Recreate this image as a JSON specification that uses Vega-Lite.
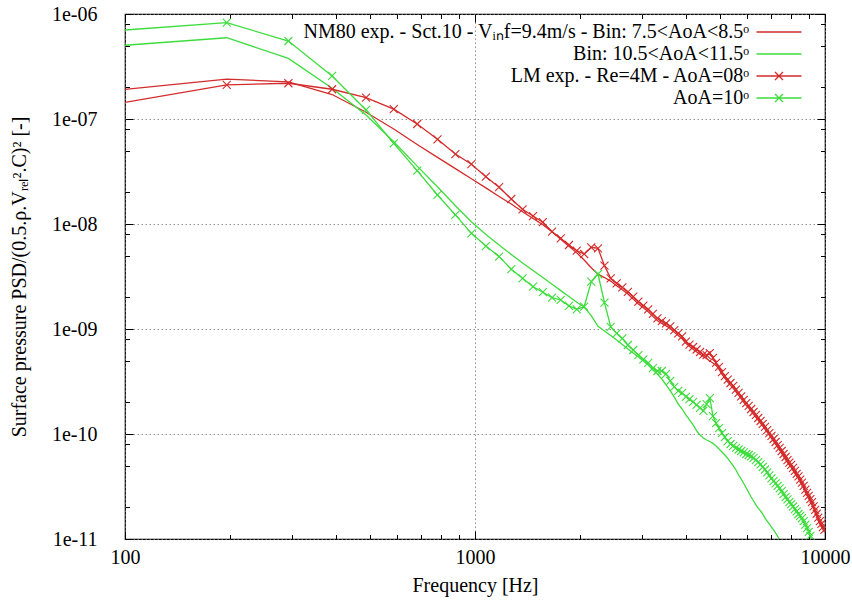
{
  "$schema": "https://vega.github.io/schema/vega-lite/v6.json",
  "width": 700,
  "height": 525,
  "autosize": "none",
  "padding": {"left": 125, "top": 14, "right": 27, "bottom": 61},
  "background": "white",
  "config": {
    "view": {"stroke": "black", "strokeWidth": 1.2},
    "font": "Liberation Serif",
    "axis": {
      "domain": false,
      "tickColor": "black",
      "tickWidth": 1,
      "labelFont": "Liberation Serif",
      "labelFontSize": 20,
      "labelColor": "black",
      "titleFont": "Liberation Serif",
      "titleFontSize": 20,
      "titleFontWeight": "normal",
      "titleColor": "black",
      "gridColor": "#777777",
      "gridDash": [1.5, 2.5],
      "gridWidth": 0.8,
      "labelFlush": false,
      "labelOverlap": false
    },
    "legend": {
      "labelFont": "Liberation Serif",
      "labelFontSize": 20,
      "labelColor": "black"
    }
  },
  "data": {
    "values": [
      {"f": 97.66, "nm8": 1.90e-7, "nm11": 5.01e-7, "lm8": 1.42e-7, "lm10": 7.0e-7},
      {"f": 195.31, "nm8": 2.40e-7, "nm11": 5.94e-7, "lm8": 2.11e-7, "lm10": 8.26e-7},
      {"f": 292.97, "nm8": 2.26e-7, "nm11": 3.78e-7, "lm8": 2.19e-7, "lm10": 5.53e-7},
      {"f": 390.63, "nm8": 1.71e-7, "nm11": 1.96e-7, "lm8": 1.92e-7, "lm10": 2.57e-7},
      {"f": 488.28, "nm8": 1.16e-7, "nm11": 1.09e-7, "lm8": 1.60e-7, "lm10": 1.22e-7},
      {"f": 585.94, "nm8": 8.02e-8, "nm11": 6.08e-8, "lm8": 1.24e-7, "lm10": 5.87e-8},
      {"f": 683.59, "nm8": 5.71e-8, "nm11": 3.56e-8, "lm8": 8.96e-8, "lm10": 3.22e-8},
      {"f": 781.25, "nm8": 4.31e-8, "nm11": 2.26e-8, "lm8": 6.41e-8, "lm10": 1.89e-8},
      {"f": 878.91, "nm8": 3.37e-8, "nm11": 1.49e-8, "lm8": 4.64e-8, "lm10": 1.22e-8},
      {"f": 976.56, "nm8": 2.70e-8, "nm11": 1.05e-8, "lm8": 3.71e-8, "lm10": 8.15e-9},
      {"f": 1074.22, "nm8": 2.21e-8, "nm11": 7.94e-9, "lm8": 2.82e-8, "lm10": 6.17e-9},
      {"f": 1171.88, "nm8": 1.83e-8, "nm11": 6.31e-9, "lm8": 2.24e-8, "lm10": 4.89e-9},
      {"f": 1269.53, "nm8": 1.55e-8, "nm11": 5.13e-9, "lm8": 1.73e-8, "lm10": 3.71e-9},
      {"f": 1367.19, "nm8": 1.31e-8, "nm11": 4.26e-9, "lm8": 1.38e-8, "lm10": 3.04e-9},
      {"f": 1464.84, "nm8": 1.13e-8, "nm11": 3.61e-9, "lm8": 1.19e-8, "lm10": 2.53e-9},
      {"f": 1562.5, "nm8": 9.86e-9, "nm11": 3.09e-9, "lm8": 1.04e-8, "lm10": 2.24e-9},
      {"f": 1660.16, "nm8": 8.43e-9, "nm11": 2.67e-9, "lm8": 8.45e-9, "lm10": 1.99e-9},
      {"f": 1757.81, "nm8": 7.17e-9, "nm11": 2.32e-9, "lm8": 7.31e-9, "lm10": 1.89e-9},
      {"f": 1855.47, "nm8": 6.13e-9, "nm11": 2.04e-9, "lm8": 6.31e-9, "lm10": 1.66e-9},
      {"f": 1953.13, "nm8": 5.31e-9, "nm11": 1.80e-9, "lm8": 5.57e-9, "lm10": 1.54e-9},
      {"f": 2050.78, "nm8": 4.54e-9, "nm11": 1.62e-9, "lm8": 5.18e-9, "lm10": 1.63e-9},
      {"f": 2148.44, "nm8": 3.83e-9, "nm11": 1.34e-9, "lm8": 6.0e-9, "lm10": 2.82e-9},
      {"f": 2246.09, "nm8": 3.33e-9, "nm11": 1.06e-9, "lm8": 5.86e-9, "lm10": 3.34e-9},
      {"f": 2343.75, "nm8": 3.09e-9, "nm11": 9.57e-10, "lm8": 4.01e-9, "lm10": 1.78e-9},
      {"f": 2441.41, "nm8": 2.86e-9, "nm11": 8.67e-10, "lm8": 3.04e-9, "lm10": 1.05e-9},
      {"f": 2539.06, "nm8": 2.58e-9, "nm11": 7.85e-10, "lm8": 2.72e-9, "lm10": 9.1e-10},
      {"f": 2636.72, "nm8": 2.37e-9, "nm11": 7.11e-10, "lm8": 2.49e-9, "lm10": 8.13e-10},
      {"f": 2734.38, "nm8": 2.15e-9, "nm11": 6.45e-10, "lm8": 2.26e-9, "lm10": 7.04e-10},
      {"f": 2832.03, "nm8": 1.93e-9, "nm11": 5.90e-10, "lm8": 2.03e-9, "lm10": 6.31e-10},
      {"f": 2929.69, "nm8": 1.73e-9, "nm11": 5.41e-10, "lm8": 1.82e-9, "lm10": 5.65e-10},
      {"f": 3027.34, "nm8": 1.59e-9, "nm11": 4.95e-10, "lm8": 1.67e-9, "lm10": 5.13e-10},
      {"f": 3125.0, "nm8": 1.46e-9, "nm11": 4.54e-10, "lm8": 1.54e-9, "lm10": 4.75e-10},
      {"f": 3222.66, "nm8": 1.32e-9, "nm11": 4.07e-10, "lm8": 1.39e-9, "lm10": 4.25e-10},
      {"f": 3320.31, "nm8": 1.20e-9, "nm11": 3.73e-10, "lm8": 1.26e-9, "lm10": 3.98e-10},
      {"f": 3417.97, "nm8": 1.13e-9, "nm11": 3.34e-10, "lm8": 1.19e-9, "lm10": 3.98e-10},
      {"f": 3515.63, "nm8": 1.07e-9, "nm11": 2.93e-10, "lm8": 1.13e-9, "lm10": 3.73e-10},
      {"f": 3613.28, "nm8": 1.01e-9, "nm11": 2.57e-10, "lm8": 1.06e-9, "lm10": 3.20e-10},
      {"f": 3710.94, "nm8": 9.3e-10, "nm11": 2.25e-10, "lm8": 9.78e-10, "lm10": 2.81e-10},
      {"f": 3808.59, "nm8": 8.65e-10, "nm11": 1.93e-10, "lm8": 9.1e-10, "lm10": 2.57e-10},
      {"f": 3906.25, "nm8": 8.07e-10, "nm11": 1.73e-10, "lm8": 8.49e-10, "lm10": 2.46e-10},
      {"f": 4003.91, "nm8": 7.3e-10, "nm11": 1.52e-10, "lm8": 7.57e-10, "lm10": 2.26e-10},
      {"f": 4101.56, "nm8": 6.8e-10, "nm11": 1.36e-10, "lm8": 7.11e-10, "lm10": 2.15e-10},
      {"f": 4199.22, "nm8": 6.4e-10, "nm11": 1.22e-10, "lm8": 6.74e-10, "lm10": 2.02e-10},
      {"f": 4296.88, "nm8": 6.05e-10, "nm11": 1.07e-10, "lm8": 6.38e-10, "lm10": 1.89e-10},
      {"f": 4394.53, "nm8": 5.75e-10, "nm11": 9.78e-11, "lm8": 6.04e-10, "lm10": 1.77e-10},
      {"f": 4492.19, "nm8": 5.45e-10, "nm11": 9.16e-11, "lm8": 5.71e-10, "lm10": 1.66e-10},
      {"f": 4589.84, "nm8": 5.2e-10, "nm11": 8.77e-11, "lm8": 5.65e-10, "lm10": 1.93e-10},
      {"f": 4687.5, "nm8": 4.95e-10, "nm11": 8.49e-11, "lm8": 5.90e-10, "lm10": 2.20e-10},
      {"f": 4785.16, "nm8": 4.75e-10, "nm11": 8.15e-11, "lm8": 5.30e-10, "lm10": 1.48e-10},
      {"f": 4882.81, "nm8": 4.5e-10, "nm11": 7.69e-11, "lm8": 4.75e-10, "lm10": 1.27e-10},
      {"f": 4980.47, "nm8": 4.15e-10, "nm11": 7.20e-11, "lm8": 4.35e-10, "lm10": 1.14e-10},
      {"f": 5078.13, "nm8": 3.7e-10, "nm11": 6.74e-11, "lm8": 3.89e-10, "lm10": 1.02e-10},
      {"f": 5175.78, "nm11": 6.31e-11, "lm8": 3.56e-10, "lm10": 9.36e-11},
      {"f": 5273.44, "nm8": 3.13e-10, "nm11": 5.85e-11, "lm8": 3.30e-10, "lm10": 8.57e-11},
      {"f": 5371.09, "nm11": 5.41e-11, "lm8": 3.06e-10, "lm10": 8.03e-11},
      {"f": 5468.75, "nm8": 2.72e-10, "nm11": 4.96e-11, "lm8": 2.87e-10, "lm10": 7.69e-11},
      {"f": 5566.41, "nm11": 4.54e-11, "lm8": 2.65e-10, "lm10": 7.36e-11},
      {"f": 5664.06, "nm8": 2.34e-10, "nm11": 4.07e-11, "lm8": 2.46e-10, "lm10": 7.12e-11},
      {"f": 5761.72, "nm11": 3.73e-11, "lm8": 2.28e-10, "lm10": 6.89e-11},
      {"f": 5859.38, "nm8": 2.0e-10, "nm11": 3.38e-11, "lm8": 2.11e-10, "lm10": 6.67e-11},
      {"f": 5957.03, "nm11": 3.06e-11, "lm8": 1.97e-10, "lm10": 6.45e-11},
      {"f": 6054.69, "nm8": 1.76e-10, "nm11": 2.77e-11, "lm8": 1.85e-10, "lm10": 6.31e-11},
      {"f": 6152.34, "nm11": 2.51e-11, "lm8": 1.73e-10, "lm10": 6.11e-11},
      {"f": 6250.0, "nm8": 1.54e-10, "nm11": 2.30e-11, "lm8": 1.62e-10, "lm10": 5.91e-11},
      {"f": 6347.66, "nm11": 2.11e-11, "lm8": 1.52e-10, "lm10": 5.65e-11},
      {"f": 6445.31, "nm8": 1.35e-10, "nm11": 1.97e-11, "lm8": 1.42e-10, "lm10": 5.41e-11},
      {"f": 6542.97, "nm11": 1.85e-11, "lm8": 1.33e-10, "lm10": 5.13e-11},
      {"f": 6640.63, "nm8": 1.19e-10, "nm11": 1.73e-11, "lm8": 1.25e-10, "lm10": 4.85e-11},
      {"f": 6738.28, "nm11": 1.58e-11, "lm8": 1.17e-10, "lm10": 4.59e-11},
      {"f": 6835.94, "nm8": 1.04e-10, "nm11": 1.48e-11, "lm8": 1.09e-10, "lm10": 4.30e-11},
      {"f": 6933.59, "nm11": 1.39e-11, "lm8": 1.02e-10, "lm10": 4.03e-11},
      {"f": 7031.25, "nm8": 9.1e-11, "nm11": 1.30e-11, "lm8": 9.58e-11, "lm10": 3.77e-11},
      {"f": 7128.91, "nm11": 1.22e-11, "lm8": 8.96e-11, "lm10": 3.56e-11},
      {"f": 7226.56, "nm8": 8.0e-11, "nm11": 1.14e-11, "lm8": 8.39e-11, "lm10": 3.38e-11},
      {"f": 7324.22, "nm11": 1.06e-11, "lm8": 7.85e-11, "lm10": 3.20e-11},
      {"f": 7421.88, "nm8": 7.0e-11, "nm11": 9.78e-12, "lm8": 7.36e-11, "lm10": 3.03e-11},
      {"f": 7519.53, "nm11": 9.1e-12, "lm8": 6.89e-11, "lm10": 2.86e-11},
      {"f": 7617.19, "nm8": 6.1e-11, "lm8": 6.45e-11, "lm10": 2.68e-11},
      {"f": 7714.84, "lm8": 6.04e-11, "lm10": 2.51e-11},
      {"f": 7812.5, "nm8": 5.35e-11, "lm8": 5.65e-11, "lm10": 2.38e-11},
      {"f": 7910.16, "lm8": 5.35e-11, "lm10": 2.25e-11},
      {"f": 8007.81, "nm8": 4.8e-11, "lm8": 5.07e-11, "lm10": 2.15e-11},
      {"f": 8105.47, "lm8": 4.75e-11, "lm10": 2.04e-11},
      {"f": 8203.13, "nm8": 4.2e-11, "lm8": 4.45e-11, "lm10": 1.93e-11},
      {"f": 8300.78, "lm8": 4.18e-11, "lm10": 1.83e-11},
      {"f": 8398.44, "nm8": 3.75e-11, "lm8": 3.94e-11, "lm10": 1.73e-11},
      {"f": 8496.09, "lm8": 3.68e-11, "lm10": 1.66e-11},
      {"f": 8593.75, "nm8": 3.28e-11, "lm8": 3.45e-11, "lm10": 1.58e-11},
      {"f": 8691.41, "lm8": 3.2e-11, "lm10": 1.48e-11},
      {"f": 8789.06, "nm8": 2.8e-11, "lm8": 2.96e-11, "lm10": 1.37e-11},
      {"f": 8886.72, "lm8": 2.75e-11, "lm10": 1.27e-11},
      {"f": 8984.38, "nm8": 2.44e-11, "lm8": 2.57e-11, "lm10": 1.17e-11},
      {"f": 9082.03, "lm8": 2.40e-11, "lm10": 1.07e-11},
      {"f": 9179.69, "nm8": 2.13e-11, "lm8": 2.25e-11, "lm10": 9.8e-12},
      {"f": 9277.34, "lm8": 2.05e-11, "lm10": 9.2e-12},
      {"f": 9375.0, "nm8": 1.8e-11, "lm8": 1.89e-11},
      {"f": 9472.66, "lm8": 1.74e-11},
      {"f": 9570.31, "nm8": 1.52e-11, "lm8": 1.60e-11},
      {"f": 9667.97, "lm8": 1.48e-11},
      {"f": 9765.63, "nm8": 1.32e-11, "lm8": 1.39e-11},
      {"f": 9863.28, "lm8": 1.30e-11},
      {"f": 9960.94, "nm8": 1.16e-11, "lm8": 1.22e-11},
      {"f": 10058.59, "lm8": 1.14e-11}
    ]
  },
  "transform": [
    {"fold": ["nm8", "nm11", "lm8", "lm10"], "as": ["series", "psd"]},
    {"filter": "isValid(datum.psd)"}
  ],
  "layer": [
    {
      "mark": {"type": "line", "strokeWidth": 1.3, "clip": true},
      "encoding": {
        "x": {
          "field": "f", "type": "quantitative",
          "scale": {"type": "log", "domain": [100, 10000], "nice": false},
          "axis": {
            "orient": "bottom", "values": [100, 1000, 10000], "format": "d",
            "tickSize": -8, "labelPadding": 16, "grid": true,
            "title": "Frequency [Hz]", "titlePadding": 8
          }
        },
        "y": {
          "field": "psd", "type": "quantitative",
          "scale": {"type": "log", "domain": [1e-11, 1e-6], "nice": false},
          "axis": {
            "orient": "left",
            "values": [1e-11, 1e-10, 1e-9, 1e-8, 1e-7, 1e-6],
            "labelExpr": "'1e-' + format(-log(datum.value) / LN10, '02.0f')",
            "tickSize": -8, "labelPadding": 36, "grid": true,
            "title": "Surface pressure PSD/(0.5.ρ.Vᵣₑₗ².C)² [-]",
            "titlePadding": 22
          }
        },
        "color": {
          "field": "series", "type": "nominal",
          "scale": {
            "domain": ["nm8", "nm11", "lm8", "lm10"],
            "range": ["#d42b2b", "#3ddc3d", "#d42b2b", "#3ddc3d"]
          },
          "legend": {
            "title": null,
            "orient": "none",
            "legendX": 644,
            "legendY": 8,
            "rowPadding": 2,
            "labelAlign": "right",
            "labelOffset": -40,
            "labelLimit": 0,
            "labelExpr": "datum.label == 'nm8' ? 'NM80 exp. - Sct.10 - Vᵢₙf=9.4m/s - Bin: 7.5<AoA<8.5ᵒ' : datum.label == 'nm11' ? 'Bin: 10.5<AoA<11.5ᵒ' : datum.label == 'lm8' ? 'LM exp. - Re=4M - AoA=08ᵒ' : 'AoA=10ᵒ'",
            "encode": {
              "symbols": {
                "update": {
                  "shape": {"signal": "datum.value == 'lm8' || datum.value == 'lm10' ? 'M-4.5,0H4.5M-0.8,-0.8L0.8,0.8M-0.8,0.8L0.8,-0.8' : 'M-4.5,0H4.5'"},
                  "size": {"value": 100},
                  "strokeWidth": {"value": 1.3},
                  "fill": {"value": "transparent"}
                }
              }
            }
          }
        }
      }
    },
    {
      "transform": [
        {"filter": "(datum.series == 'lm8' || datum.series == 'lm10') && datum.f >= 100 && datum.f <= 10000 && datum.psd >= 1e-11"}
      ],
      "mark": {
        "type": "point", "shape": "M-1,-1L1,1M-1,1L1,-1", "size": 64,
        "strokeWidth": 1.1, "filled": false, "opacity": 1, "clip": true
      },
      "encoding": {
        "x": {"field": "f", "type": "quantitative", "scale": {"type": "log", "domain": [100, 10000], "nice": false}, "axis": null},
        "y": {"field": "psd", "type": "quantitative", "scale": {"type": "log", "domain": [1e-11, 1e-6], "nice": false}, "axis": null},
        "color": {"field": "series", "type": "nominal", "legend": null}
      }
    },
    {
      "transform": [{"filter": "datum.series == 'lm8'"}],
      "mark": {"type": "point", "opacity": 0},
      "encoding": {
        "x": {
          "field": "f", "type": "quantitative",
          "scale": {"type": "log", "domain": [100, 10000], "nice": false},
          "axis": {"orient": "bottom", "values": [200, 300, 400, 500, 600, 700, 800, 900, 2000, 3000, 4000, 5000, 6000, 7000, 8000, 9000], "labels": false, "tickSize": -4.5, "grid": false, "title": null}
        },
        "y": {
          "field": "psd", "type": "quantitative",
          "scale": {"type": "log", "domain": [1e-11, 1e-6], "nice": false},
          "axis": {"orient": "left", "values": [2e-11, 5e-11, 8e-11, 2e-10, 5e-10, 8e-10, 2e-9, 5e-9, 8e-9, 2e-8, 5e-8, 8e-8, 2e-7, 5e-7, 8e-7], "labels": false, "tickSize": -4.5, "grid": false, "title": null}
        }
      }
    },
    {
      "transform": [{"filter": "datum.series == 'lm8'"}],
      "mark": {"type": "point", "opacity": 0},
      "encoding": {
        "x": {
          "field": "f", "type": "quantitative",
          "scale": {"type": "log", "domain": [100, 10000], "nice": false},
          "axis": {"orient": "top", "values": [100, 1000, 10000], "labels": false, "tickSize": -8, "grid": false, "title": null}
        },
        "y": {
          "field": "psd", "type": "quantitative",
          "scale": {"type": "log", "domain": [1e-11, 1e-6], "nice": false},
          "axis": {"orient": "right", "values": [1e-11, 1e-10, 1e-9, 1e-8, 1e-7, 1e-6], "labels": false, "tickSize": -8, "grid": false, "title": null}
        }
      }
    },
    {
      "transform": [{"filter": "datum.series == 'lm8'"}],
      "mark": {"type": "point", "opacity": 0},
      "encoding": {
        "x": {
          "field": "f", "type": "quantitative",
          "scale": {"type": "log", "domain": [100, 10000], "nice": false},
          "axis": {"orient": "top", "values": [200, 300, 400, 500, 600, 700, 800, 900, 2000, 3000, 4000, 5000, 6000, 7000, 8000, 9000], "labels": false, "tickSize": -4.5, "grid": false, "title": null}
        },
        "y": {
          "field": "psd", "type": "quantitative",
          "scale": {"type": "log", "domain": [1e-11, 1e-6], "nice": false},
          "axis": {"orient": "right", "values": [2e-11, 5e-11, 8e-11, 2e-10, 5e-10, 8e-10, 2e-9, 5e-9, 8e-9, 2e-8, 5e-8, 8e-8, 2e-7, 5e-7, 8e-7], "labels": false, "tickSize": -4.5, "grid": false, "title": null}
        }
      }
    }
  ],
  "resolve": {"axis": {"x": "independent", "y": "independent"}}
}
